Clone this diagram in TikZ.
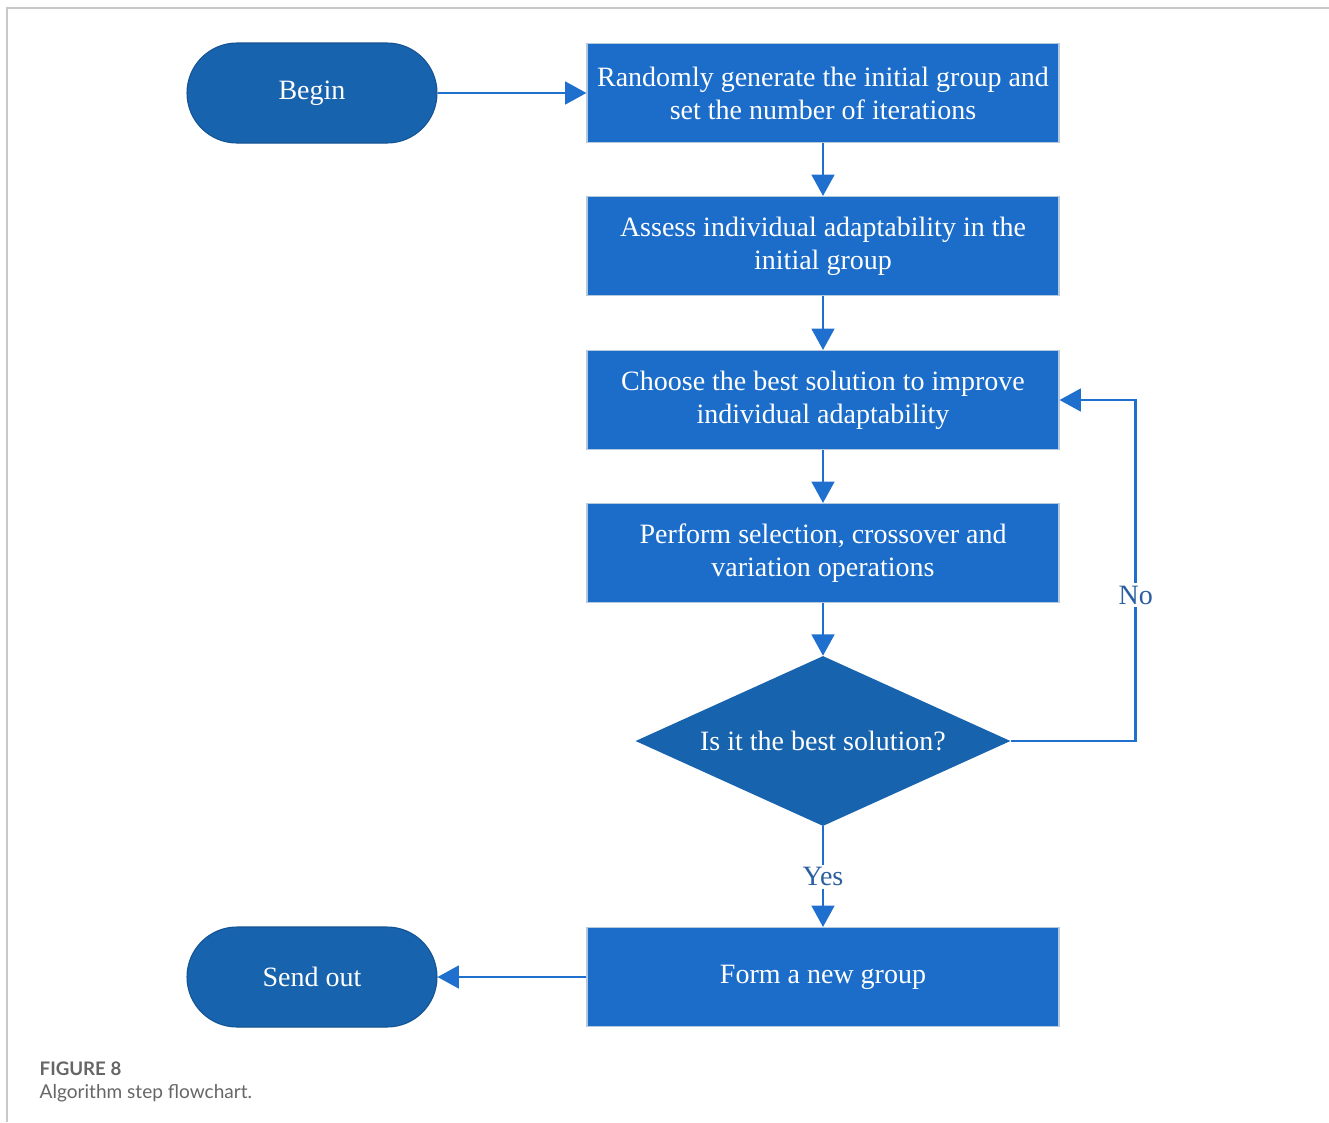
\documentclass[tikz,border=0pt]{standalone}
\usepackage{fontspec}
\setmainfont{Liberation Serif}
\newfontfamily\capfont{Lato}
\usetikzlibrary{arrows.meta,shapes.geometric}
\definecolor{termblue}{HTML}{1763AD}
\definecolor{boxblue}{HTML}{1B6DC9}
\definecolor{arrblue}{HTML}{1F6FCF}
\definecolor{lblblue}{HTML}{2B5FA0}
\definecolor{framegray}{HTML}{C8C8C8}
\definecolor{capgray}{HTML}{666666}
\tikzset{
  stepbox/.style={draw=boxblue!60!gray!40, line width=0.8pt, fill=boxblue, text=white,
    minimum width=354pt, minimum height=74.25pt, inner sep=0pt, align=center,
    font=\fontsize{21}{24.75}\selectfont},
  terminal/.style={draw=termblue!85!black, line width=0.8pt, fill=termblue, text=white,
    minimum width=187.5pt, minimum height=75pt, rounded corners=37.5pt, inner sep=0pt,
    font=\fontsize{21}{24.75}\selectfont},
  decision/.style={diamond, shape aspect=2.2, fill=termblue, text=white,
    minimum width=281.25pt, minimum height=127.5pt, inner sep=0pt,
    font=\fontsize{21}{24.75}\selectfont},
  arr/.style={draw=arrblue, line width=2pt, -{Triangle[length=16pt,width=17pt]}},
  lbl/.style={fill=white, text=lblblue, inner sep=2pt, font=\fontsize{21}{24.75}\selectfont},
}
\begin{document}
\begin{tikzpicture}[x=0.75pt,y=-0.75pt]
\useasboundingbox (0,0) rectangle (1329,1122);
\draw[framegray, line width=1.2pt] (7,1122) -- (7,8) -- (1329,8);

\node[terminal] (begin) at (312,93) {Begin};
\node[stepbox] (b1) at (823,93) {Randomly generate the initial group and\\set the number of iterations};
\node[stepbox] (b2) at (823,246) {Assess individual adaptability in the\\initial group};
\node[stepbox] (b3) at (823,400) {Choose the best solution to improve\\individual adaptability};
\node[stepbox] (b4) at (823,553) {Perform selection, crossover and\\variation operations};
\node[decision] (dec) at (823,741) {Is it the best solution?};
\node[stepbox] (b5) at (823,977) {Form a new group};
\node[terminal] (send) at (312,977) {Send out};

\draw[arr] (begin) -- (b1);
\draw[arr] (b1) -- (b2);
\draw[arr] (b2) -- (b3);
\draw[arr] (b3) -- (b4);
\draw[arr] (b4) -- (dec);
\draw[arr] (dec.south) -- node[lbl]{Yes} (b5.north);
\draw[arr] (dec.east) -- ++(125,0) |- node[lbl, pos=0.214]{No} (b3.east);
\draw[arr] (b5) -- (send);

\node[anchor=base west, text=capgray, font=\capfont\bfseries\fontsize{14}{16}\selectfont] (fig) at (35,1075) {FIGURE 8};
\node[anchor=base west, text=capgray, font=\capfont\fontsize{14.3}{16}\selectfont] (cap) at (35,1098) {Algorithm step flowchart.};
\end{tikzpicture}
\end{document}
